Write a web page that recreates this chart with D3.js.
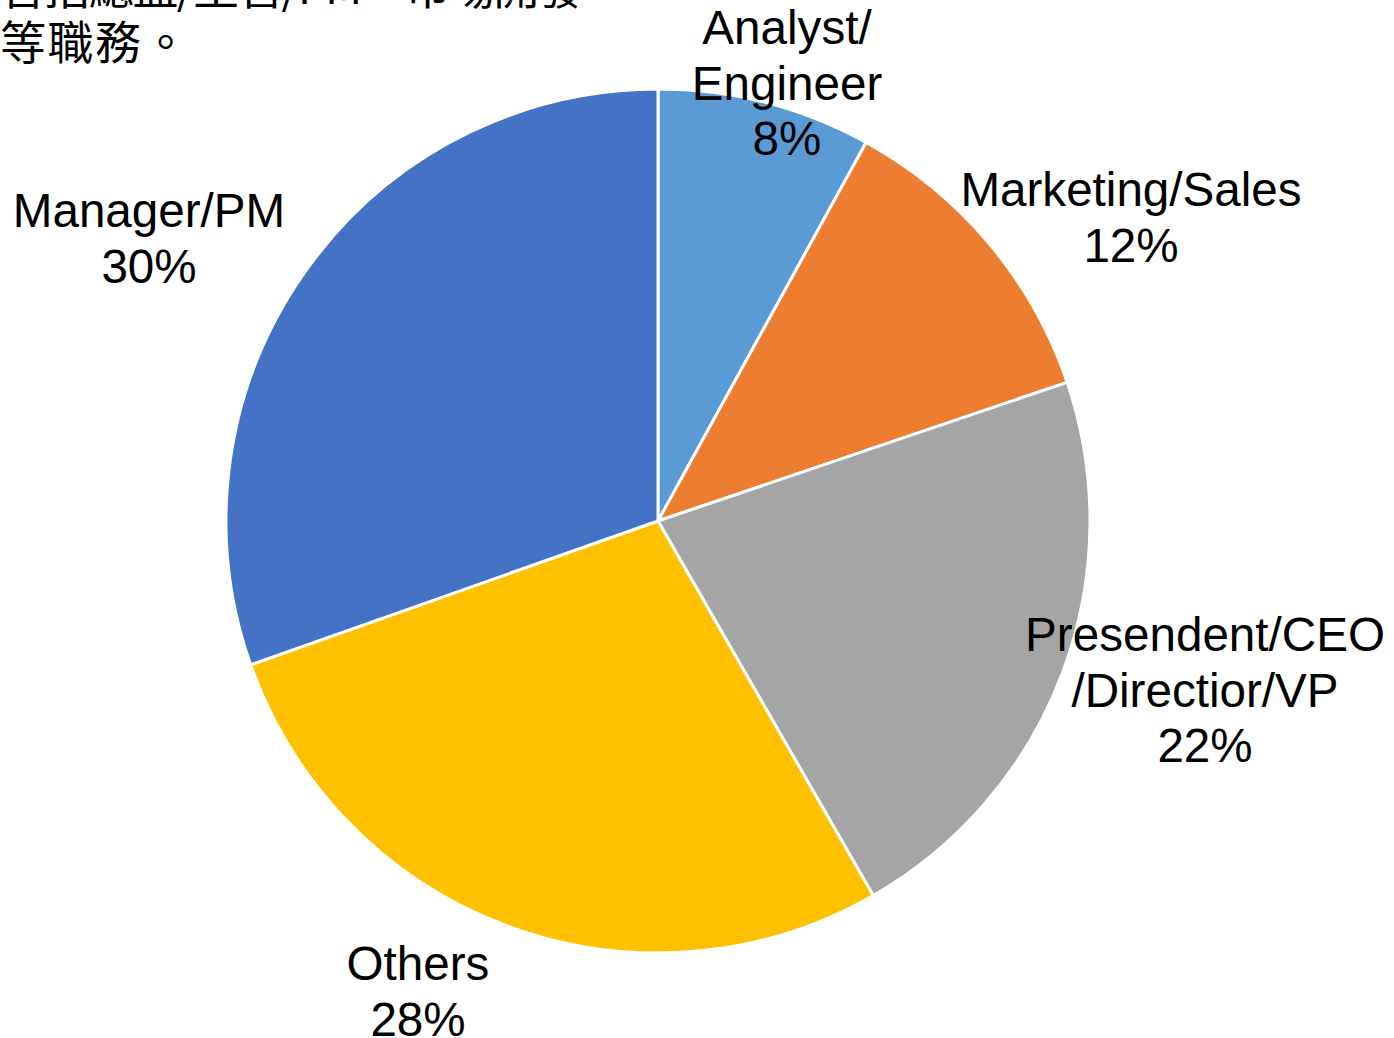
<!DOCTYPE html>
<html><head><meta charset="utf-8">
<script src="https://cdn.jsdelivr.net/npm/d3@7"></script>
<style>
html,body{margin:0;padding:0;background:#fff;overflow:hidden}
svg{display:block}
</style></head>
<body>
<svg id="chart" width="1394" height="1038"></svg>
<script>
// ---- data ----
const categories = ["Analyst/\nEngineer", "Marketing/Sales", "Presendent/CEO\n/Directior/VP", "Others", "Manager/PM"];
const values = [8.0, 11.8, 21.9, 27.9, 30.4];
const colors = ["#5B9BD5", "#ED7D31", "#A5A5A5", "#FFC000", "#4472C4"];
const noteLines = ["含括總監/主管/PM、市場開發", "等職務。"];

// ---- layout ----
const W = 1394, H = 1038;
const cx = 658, cy = 521, R = 432;
// label block anchors (x, first-baseline y) relative to pie centre
const labelAnchors = [[129, -477], [473, -315], [547, 130], [-240, 459], [-509, -294]];
const lineH = 55.5;
const noteSpacing = [-1.8, 1.5];

const svg = d3.select("#chart");
const total = d3.sum(values);

const pie = d3.pie().sort(null).value(d => d)(values);
const arc = d3.arc().innerRadius(0).outerRadius(R);

const g = svg.append("g").attr("transform", `translate(${cx},${cy})`);
g.selectAll("path.slice").data(pie).join("path")
  .attr("class", "slice")
  .attr("d", arc)
  .attr("fill", (d, i) => colors[i])
  .attr("stroke", "#fff")
  .attr("stroke-width", 3)
  .attr("stroke-linejoin", "round");

const lbl = g.selectAll("text.lbl").data(pie).join("text")
  .attr("class", "lbl")
  .attr("text-anchor", "middle")
  .attr("font-family", "'Liberation Sans', Arial, sans-serif")
  .attr("font-size", 47.6)
  .attr("fill", "#000")
  .attr("transform", (d, i) => `translate(${labelAnchors[i][0]},${labelAnchors[i][1]})`);

lbl.each(function (d, i) {
  const lines = categories[i].split("\n").concat([Math.round(d.value / total * 100) + "%"]);
  d3.select(this).selectAll("tspan").data(lines).join("tspan")
    .attr("x", 0)
    .attr("y", (t, j) => j * lineH)
    .text(t => t);
});

// top-left note (partially clipped at the top edge, as in the source)
svg.append("text")
  .attr("font-family", "'Noto Sans CJK TC', 'Noto Sans CJK SC', sans-serif")
  .attr("font-size", 46)
  .attr("fill", "#000")
  .selectAll("tspan").data(noteLines).join("tspan")
  .attr("x", 0)
  .attr("y", (t, j) => 4 + j * 55)
  .attr("letter-spacing", (t, j) => noteSpacing[j])
  .text(t => t);
</script>
</body></html>
